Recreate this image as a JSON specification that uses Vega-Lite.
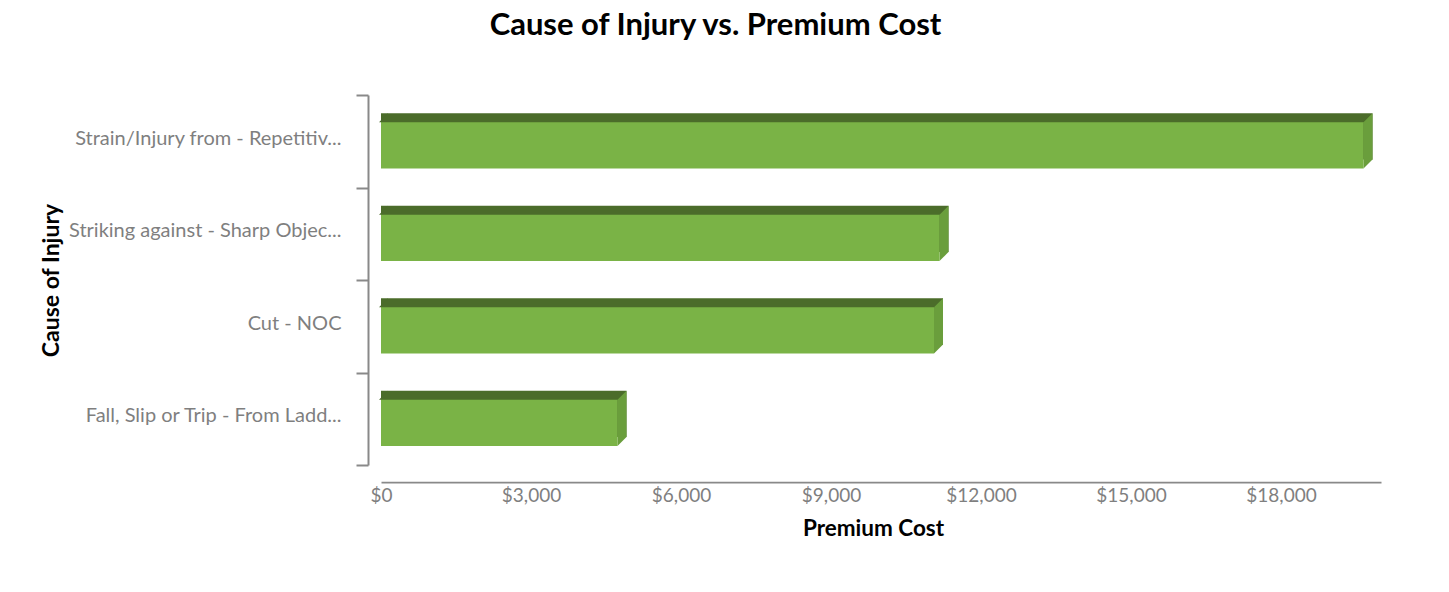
{
  "$schema": "https://vega.github.io/schema/vega-lite/v6.json",
  "width": 1000,
  "height": 370,
  "autosize": {"type": "none"},
  "padding": {"left": 381, "top": 95, "right": 68, "bottom": 127},
  "background": "white",
  "title": {
    "text": "Cause of Injury vs. Premium Cost",
    "anchor": "middle",
    "frame": "bounds",
    "font": "Lato",
    "fontSize": 31,
    "fontWeight": "bold",
    "color": "#000000",
    "offset": 43,
    "dx": 5
  },
  "data": {
    "values": [
      {"cause": "Strain/Injury from - Repetitiv...", "cost": 19650},
      {"cause": "Striking against - Sharp Objec...", "cost": 11170},
      {"cause": "Cut - NOC", "cost": 11060},
      {"cause": "Fall, Slip or Trip - From Ladd...", "cost": 4730}
    ]
  },
  "encoding": {
    "y": {
      "field": "cause",
      "type": "nominal",
      "sort": null,
      "scale": {"paddingInner": 0, "paddingOuter": 0},
      "axis": {
        "title": "Cause of Injury",
        "titleFont": "Lato",
        "titleFontSize": 23,
        "titleFontWeight": "bold",
        "titleColor": "#000000",
        "titleX": -310,
        "titleBaseline": "alphabetic",
        "labelFont": "Lato",
        "labelFontSize": 20,
        "labelColor": "#7F7F7F",
        "labelPadding": 15,
        "labelLimit": 400,
        "labelOffset": -3,
        "offset": 13,
        "domainColor": "#898989",
        "domainWidth": 2,
        "ticks": true,
        "tickColor": "#898989",
        "tickWidth": 2,
        "tickSize": 12,
        "tickBand": "extent",
        "grid": false
      }
    },
    "x": {
      "field": "cost",
      "type": "quantitative",
      "stack": null,
      "scale": {"domain": [0, 20000], "nice": false},
      "axis": {
        "title": "Premium Cost",
        "titleFont": "Lato",
        "titleFontSize": 22.5,
        "titleFontWeight": "bold",
        "titleColor": "#000000",
        "titlePadding": 12,
        "titleX": 492,
        "labelFont": "Lato",
        "labelFontSize": 19,
        "labelColor": "#7F7F7F",
        "labelPadding": 4,
        "labelFlush": false,
        "values": [0, 3000, 6000, 9000, 12000, 15000, 18000],
        "format": "$,.0f",
        "offset": 17,
        "domainColor": "#898989",
        "domainWidth": 1.75,
        "ticks": false,
        "grid": false
      }
    }
  },
  "layer": [
    {
      "mark": {"type": "bar", "color": "#4B6C2A", "height": {"band": 0.5}, "xOffset": 9, "x2Offset": 7, "yOffset": -4.8, "y2Offset": -4.8}
    },
    {
      "mark": {"type": "point", "filled": true, "opacity": 1, "size": 4, "strokeWidth": 0, "color": "#6A9E3C", "shape": "M0,-19L9,-28L9,18.3L0,27.3Z"}
    },
    {
      "mark": {"type": "point", "filled": true, "opacity": 1, "size": 4, "strokeWidth": 0, "color": "#4B6C2A", "shape": "M-2,-19L7,-28L7,-19Z"},
      "encoding": {
        "x": {"datum": 0, "type": "quantitative"}
      }
    },
    {
      "mark": {"type": "bar", "color": "#7AB346", "height": {"band": 0.5}, "x2Offset": -2, "yOffset": 4.2, "y2Offset": 4.2}
    }
  ],
  "config": {
    "view": {"stroke": null}
  }
}
